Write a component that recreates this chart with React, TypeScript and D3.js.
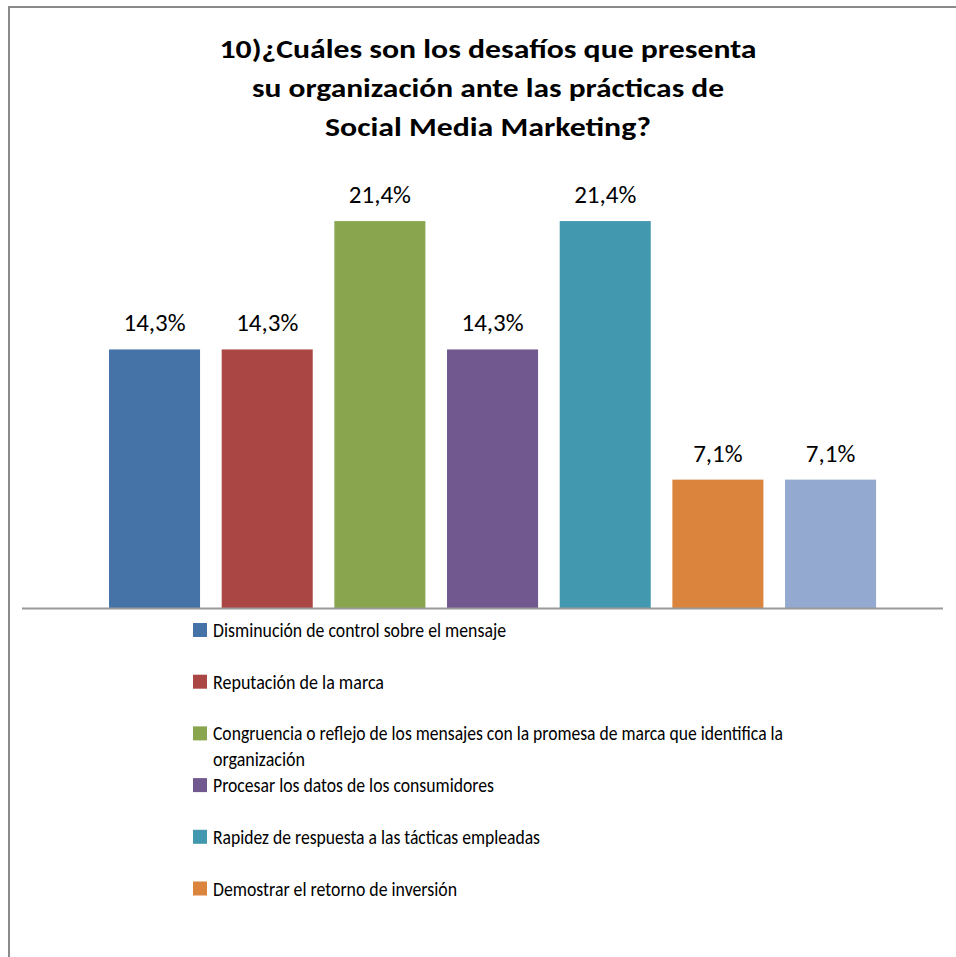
import React from "react";
import * as d3 from "d3";

const titleLines = [
  "10)¿Cuáles son los desafíos que presenta",
  "su organización ante las prácticas de",
  "Social Media Marketing?",
];
const titleWidths = [537, 472, 326];

const categories = [
  "Disminución de control sobre el mensaje",
  "Reputación de la marca",
  "Congruencia o reflejo de los mensajes con la promesa de marca que identifica la organización",
  "Procesar los datos de los consumidores",
  "Rapidez de respuesta a las tácticas empleadas",
  "Demostrar el retorno de inversión",
  "Otro",
];
const values = [14.3, 14.3, 21.4, 14.3, 21.4, 7.1, 7.1];
const valueLabels = ["14,3%", "14,3%", "21,4%", "14,3%", "21,4%", "7,1%", "7,1%"];
const colors = ["#4572A7", "#AA4643", "#89A54E", "#71588F", "#4198AF", "#DB843D", "#93A9CF"];

// visible legend entries (the chart clips the last one)
const legendLines = [
  ["Disminución de control sobre el mensaje"],
  ["Reputación de la marca"],
  ["Congruencia o reflejo de los mensajes con la promesa de marca que identifica la", "organización"],
  ["Procesar los datos de los consumidores"],
  ["Rapidez de respuesta a las tácticas empleadas"],
  ["Demostrar el retorno de inversión"],
];
const legendWidths = [[293], [171], [570, 92], [281], [327], [244]];

const W = 956;
const H = 957;
const FONT = "Carlito, Calibri, Lato, 'Open Sans', sans-serif";

export default function App() {
  const x = d3
    .scaleBand<string>()
    .domain(categories)
    .range([98.2, 886.9])
    .paddingInner(0.192)
    .paddingOuter(0.096);
  const y = d3.scaleLinear().domain([0, 25]).range([608, 156]);
  const baseY = y(0);

  return (
    <svg
      width={W}
      height={H}
      style={{ position: "absolute", left: 0, top: 0, background: "#fff" }}
      fontFamily={FONT}
    >
      <rect x={0} y={0} width={W} height={H} fill="#fff" />
      {/* chart border (top & left visible) */}
      <path d={`M9,${H} L9,7 L${W},7`} fill="none" stroke="#8a8a8a" strokeWidth={2} />

      {/* title */}
      {titleLines.map((t, i) => (
        <text
          key={i}
          x={488}
          y={58 + i * 39}
          textAnchor="middle"
          fontWeight="bold"
          fontSize={27}
          fill="#000"
          textLength={titleWidths[i]}
          lengthAdjust="spacingAndGlyphs"
        >
          {t}
        </text>
      ))}

      {/* bars */}
      {categories.map((c, i) => (
        <rect
          key={c}
          x={x(c)}
          y={y(values[i])}
          width={x.bandwidth()}
          height={baseY - y(values[i])}
          fill={colors[i]}
        />
      ))}

      {/* value labels */}
      {categories.map((c, i) => (
        <text
          key={"l" + i}
          x={(x(c) as number) + x.bandwidth() / 2}
          y={y(values[i]) - 18}
          textAnchor="middle"
          fontSize={25}
          fill="#000"
        >
          {valueLabels[i]}
        </text>
      ))}

      {/* axis line */}
      <line x1={22} x2={943} y1={baseY + 0.5} y2={baseY + 0.5} stroke="#9a9a9a" strokeWidth={2} />

      {/* legend */}
      {legendLines.map((lines, i) => {
        const cy = 630 + i * 51.7;
        return (
          <g key={"lg" + i}>
            <rect x={193} y={cy - 7} width={14} height={14} fill={colors[i]} />
            {lines.map((ln, j) => (
              <text
                key={j}
                x={213}
                y={cy + 7 + j * 26}
                fontSize={21}
                fill="#000"
                textLength={legendWidths[i][j]}
                lengthAdjust="spacingAndGlyphs"
              >
                {ln}
              </text>
            ))}
          </g>
        );
      })}
    </svg>
  );
}
